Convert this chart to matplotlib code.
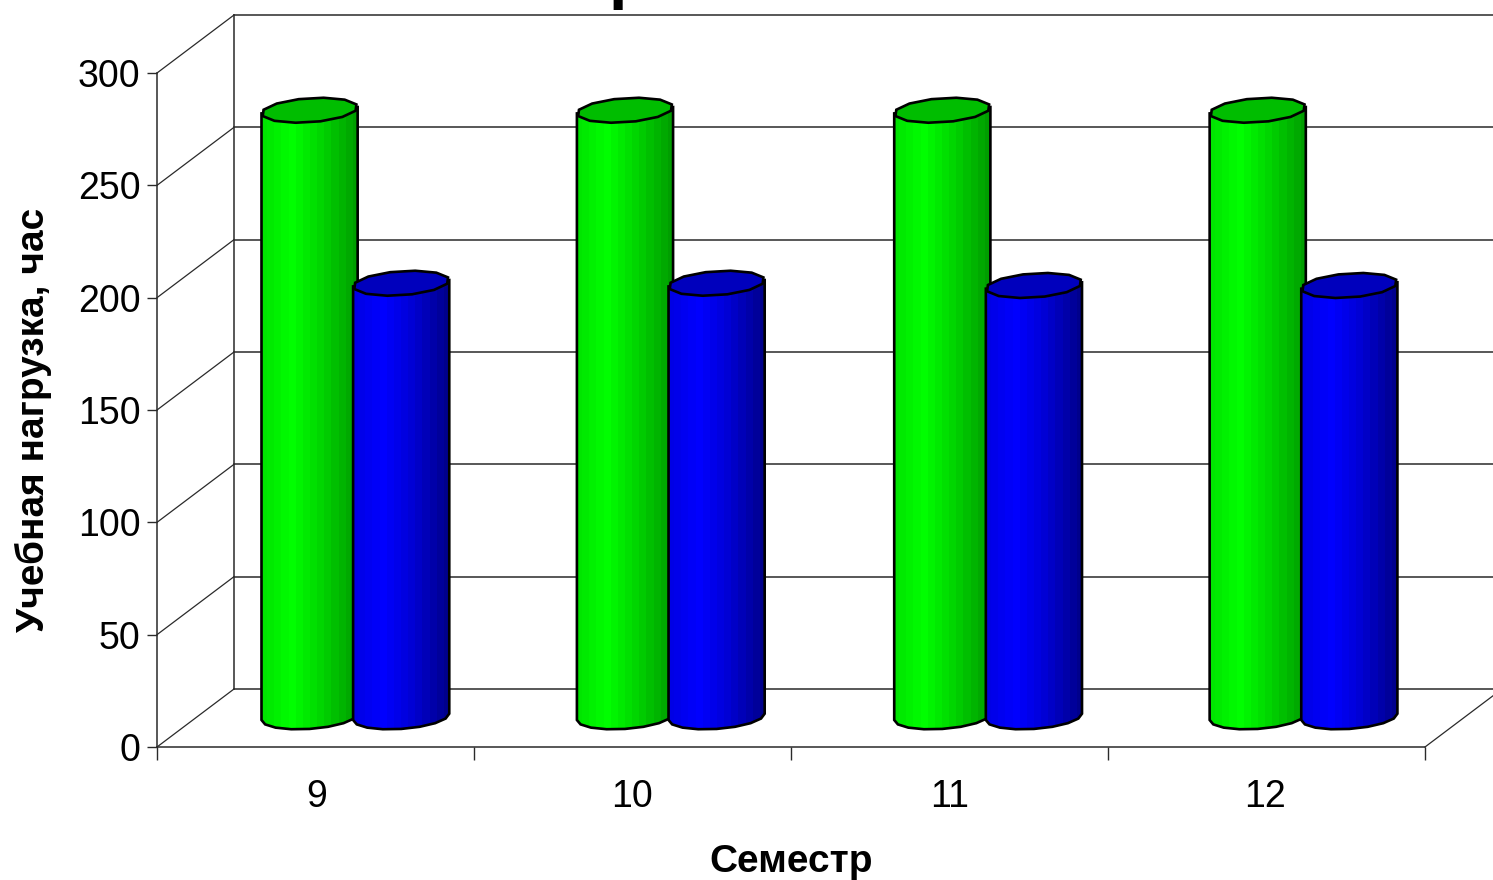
import numpy as np
import matplotlib
matplotlib.use('Agg')
import matplotlib.pyplot as plt
from matplotlib.patches import Polygon

plt.rcParams['font.family'] = ['Liberation Sans', 'DejaVu Sans']

semesters = ['9', '10', '11', '12']
green_hours = [270, 270, 270, 270]
blue_hours = [193, 193, 192, 192]
y_ticks = [0, 50, 100, 150, 200, 250, 300]
# the groups are not quite evenly spaced in the old export
group_shift = [0.0, -0.005, -0.004, -0.009]

W, H = 1493, 880
fig = plt.figure(figsize=(W / 100, H / 100), dpi=100, facecolor='white')
ax = fig.add_axes([157 / W, (H - 747) / H, 1268 / W, 674 / H])
ax.set_facecolor('none')

# pixels per data unit, the fake 3d box is worked out from these
ux = 1268 / 4
uy = 674 / 300
depth_x = 77 / ux
depth_y = 58 / uy
bar_depth = 0.52
t0 = np.arctan2(14, 46)
line_col = '#2a2a2a'


def wall():
    for v in y_ticks:
        ax.plot([0, depth_x], [v, v + depth_y], color=line_col, lw=0.9, zorder=1, clip_on=False)
        ax.plot([depth_x, 4.3], [v + depth_y, v + depth_y], color=line_col, lw=1.1, zorder=1, clip_on=False)
    ax.plot([depth_x, depth_x], [depth_y, 300 + depth_y], color=line_col, lw=1.1, zorder=1, clip_on=False)
    ax.plot([4, 4 + depth_x], [0, depth_y], color=line_col, lw=0.9, zorder=1, clip_on=False)


def ring(cx, cy, t):
    x = cx + (46 * np.cos(t) + 14 * np.sin(t)) / ux
    y = cy + (-0.5 * np.cos(t) + 12.5 * np.sin(t)) / uy
    return np.column_stack([x, y])


def cylinder(pos, value, stops, top_col, z):
    cx = pos + bar_depth * depth_x
    base = bar_depth * depth_y
    top = base + value
    # lower half of the base, then back up to the top ring
    arc = ring(cx, base, np.linspace(t0 + np.pi, t0 + 2 * np.pi, 9))
    body = np.vstack([ring(cx, top, t0 + np.pi), arc, ring(cx, top, t0)])
    shape = Polygon(body, closed=True, facecolor='none', edgecolor='black', lw=1.9, zorder=z + 0.2, clip_on=False)
    ax.add_patch(shape)
    # banded shading like the old chart export
    n = 14
    f = np.linspace(0, 1, n)
    cols = np.column_stack([np.interp(f, stops[0], [c[i] for c in stops[1]]) for i in range(3)])
    im = ax.imshow(cols[np.newaxis, :, :], extent=[cx - 50 / ux, cx + 50 / ux, base - 20 / uy, top + 20 / uy],
                   aspect='auto', interpolation='nearest', zorder=z)
    im.set_clip_path(shape)
    cap = Polygon(ring(cx, top, np.linspace(0, 2 * np.pi, 13)[:-1]), closed=True, facecolor=top_col,
                  edgecolor='black', lw=1.9, zorder=z + 0.3, clip_on=False)
    ax.add_patch(cap)


green_stops = ([0, 0.08, 0.3, 0.6, 1], [(0, .9, 0), (0, .92, 0), (0, 1, 0), (0, .85, 0), (0, .62, 0)])
blue_stops = ([0, 0.08, 0.3, 0.6, 1], [(0, 0, .9), (0, 0, .92), (0, 0, 1), (0, 0, .85), (0, 0, .55)])

wall()
for i in range(len(semesters)):
    cylinder(i + 0.355 + group_shift[i], green_hours[i], green_stops, (0, .74, 0), 3)
    cylinder(i + 0.644 + group_shift[i], blue_hours[i], blue_stops, (0, 0, .74), 4)

ax.set_xlim(0, 4)
ax.set_ylim(0, 300)
for s in ['top', 'right']:
    ax.spines[s].set_visible(False)
for s in ['left', 'bottom']:
    ax.spines[s].set_color(line_col)
    ax.spines[s].set_linewidth(1.1)
ax.set_yticks(y_ticks)
ax.set_xticks(range(5))
ax.set_xticklabels([])
ax.set_xticks(np.arange(len(semesters)) + 0.505 + np.array(group_shift), labels=semesters, minor=True)
ax.tick_params(axis='x', which='major', length=9, width=1, color=line_col)
ax.tick_params(axis='x', which='minor', length=0, pad=23, labelsize=27)
ax.tick_params(axis='y', length=7, width=1, color=line_col, pad=5, labelsize=27)

ax.set_ylabel('Учебная нагрузка, час', fontsize=28, fontweight='bold')
ax.yaxis.set_label_coords(-0.083, 0.485)
ax.set_xlabel('Семестр', fontsize=28, fontweight='bold', va='center')
ax.xaxis.set_label_coords(0.5, -0.171)

# only the tail of the title is left at the top of the picture
fig.text(609 / W, 1 + 4 / H, 'р', fontsize=48, fontweight='bold', ha='left', va='baseline')

fig.savefig('out.png', dpi=100)
